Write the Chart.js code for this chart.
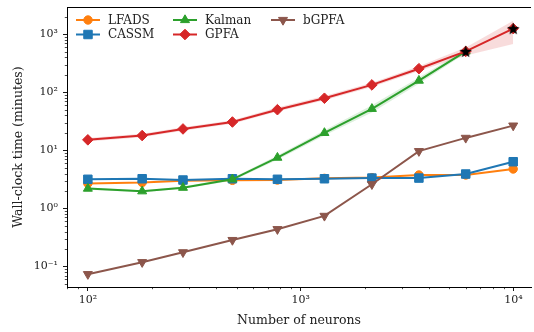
<!DOCTYPE html>
<html>
<head>
<meta charset="utf-8">
<script src="https://cdn.jsdelivr.net/npm/chart.js@4.4.1/dist/chart.umd.min.js"></script>
<style>
  html, body { margin: 0; padding: 0; background: #fff; overflow: hidden; width: 534px; height: 332px; }
  #wrap { width: 538px; height: 332px; position: relative; }
</style>
</head>
<body>
<div id="wrap"><canvas id="timing"></canvas></div>
<script>
// ---- data ----
const neurons = [100, 180, 280, 478, 778, 1294, 2163, 3597, 5970, 9980];

const lfads  = [2.7, 2.8, 3.0, 3.05, 3.09, 3.3, 3.4, 3.77, 3.77, 4.78];
const cassm  = [3.18, 3.25, 3.09, 3.25, 3.18, 3.25, 3.34, 3.34, 3.92, 6.38];
const kalman = [2.2, 1.98, 2.28, 3.18, 7.5, 20, 52, 159, 506];
const gpfa   = [15.2, 18, 23.4, 30.8, 50.2, 79, 134, 255, 506, 1250];
const bgpfa  = [0.074, 0.119, 0.176, 0.286, 0.44, 0.745, 2.61, 9.7, 16.4, 26.7];

const gpfaLo = [14.2, 16.8, 21.8, 28.7, 46.5, 73, 123, 232, 430, 680];
const gpfaHi = [16.3, 19.3, 25.1, 33, 54.5, 86, 146, 280, 590, 1700];
const kalLo  = [2.1, 1.9, 2.18, 3.0, 6.9, 18, 45, 140, 470];
const kalHi  = [2.3, 2.07, 2.4, 3.35, 8.2, 22.3, 60, 180, 545];

// runs marked with a star
const starX = [5970, 9980];
const starY = [506, 1250];

const xTicks = [100, 1000, 10000];
const xTickLabels = ['10²', '10³', '10⁴'];
const yTicks = [0.1, 1, 10, 100, 1000];
const yTickLabels = ['10⁻¹', '10⁰', '10¹', '10²', '10³'];

const seriesNames = ['LFADS', 'CASSM', 'Kalman', 'GPFA', 'bGPFA'];

// ---- styling ----
const SERIF = '"DejaVu Serif", "Liberation Serif", serif';
const C = {
    LFADS: '#ff7f0e', CASSM: '#1f77b4', Kalman: '#2ca02c',
    GPFA: '#d62728', bGPFA: '#8c564b'
};
const MARK = {
    LFADS:  { style: 'circle',   r: 4.2, rot: 0 },
    CASSM:  { style: 'rect',     r: 6.0, rot: 0 },
    Kalman: { style: 'triangle', r: 5.2, rot: 0 },
    GPFA:   { style: 'rectRot',  r: 5.3, rot: 0 },
    bGPFA:  { style: 'triangle', r: 5.2, rot: 180 }
};

function starCanvas(size) {
    const c = document.createElement('canvas');
    c.width = size; c.height = size;
    const g = c.getContext('2d');
    const cx = size / 2, cy = size / 2 + 0.5, R = size / 2, r = R * 0.42;
    g.beginPath();
    for (let i = 0; i < 10; i++) {
        const a = -Math.PI / 2 + i * Math.PI / 5;
        const rr = i % 2 ? r : R;
        g.lineTo(cx + rr * Math.cos(a), cy + rr * Math.sin(a));
    }
    g.closePath();
    g.fillStyle = '#000';
    g.fill();
    return c;
}

const pts = (ys) => ys.map((y, i) => ({ x: neurons[i], y }));

function series(name, ys, order) {
    const m = MARK[name];
    return {
        label: name,
        data: pts(ys),
        borderColor: C[name],
        backgroundColor: C[name],
        borderWidth: 2,
        pointStyle: m.style,
        pointRadius: m.r,
        pointRotation: m.rot,
        pointBorderWidth: 1,
        pointBorderColor: C[name],
        pointBackgroundColor: C[name],
        order: order
    };
}

function band(ys, fill, color) {
    return {
        label: '_band',
        data: pts(ys),
        borderWidth: 0,
        pointRadius: 0,
        backgroundColor: color,
        fill: fill,
        order: 20
    };
}

// minor ticks + top spine + legend
const axesExtras = {
    id: 'axesExtras',
    afterDraw(chart) {
        const { ctx, chartArea: a, scales } = chart;
        ctx.save();
        ctx.strokeStyle = '#000';
        ctx.lineWidth = 0.7;
        ctx.beginPath();
        const xMinor = [];
        for (let d = 10; d <= 10000; d *= 10)
            for (let k = 2; k <= 9; k++) xMinor.push(d * k);
        xMinor.forEach(v => {
            if (v < scales.x.min || v > scales.x.max) return;
            const px = Math.round(scales.x.getPixelForValue(v)) + 0.5;
            ctx.moveTo(px, a.bottom); ctx.lineTo(px, a.bottom + 2.2);
        });
        const yMinor = [];
        for (let d = 0.01; d <= 1000; d *= 10)
            for (let k = 2; k <= 9; k++) yMinor.push(d * k);
        yMinor.forEach(v => {
            if (v < scales.y.min || v > scales.y.max) return;
            const py = Math.round(scales.y.getPixelForValue(v)) + 0.5;
            ctx.moveTo(a.left, py); ctx.lineTo(a.left - 2.2, py);
        });
        ctx.stroke();

        ctx.lineWidth = 1;
        ctx.beginPath();
        ctx.moveTo(a.left, a.top + 0.5);
        ctx.lineTo(a.right, a.top + 0.5);
        ctx.stroke();

        // legend, three columns
        const cols = [76, 173, 271];
        const rows = [20, 34.5];
        const slots = [[0, 0], [0, 1], [1, 0], [1, 1], [2, 0]];
        ctx.font = '12px ' + SERIF;
        ctx.textBaseline = 'middle';
        ctx.textAlign = 'left';
        seriesNames.forEach((name, i) => {
            const x0 = cols[slots[i][0]], y0 = rows[slots[i][1]];
            ctx.strokeStyle = C[name];
            ctx.lineWidth = 2;
            ctx.beginPath();
            ctx.moveTo(x0, y0); ctx.lineTo(x0 + 24, y0);
            ctx.stroke();
            ctx.fillStyle = C[name];
            ctx.lineWidth = 1;
            const m = MARK[name];
            Chart.helpers.drawPoint(ctx, {
                pointStyle: m.style, radius: m.r, rotation: m.rot, borderWidth: 1
            }, x0 + 12, y0);
            ctx.fillStyle = '#222';
            ctx.fillText(name, x0 + 32, y0 + 0.5);
        });
        ctx.restore();
    }
};

new Chart(document.getElementById('timing'), {
    type: 'line',
    data: {
        datasets: [
            band(gpfaHi, '+1', 'rgba(214,39,40,0.16)'),
            band(gpfaLo, false, 'rgba(0,0,0,0)'),
            band(kalHi, '+1', 'rgba(44,160,44,0.16)'),
            band(kalLo, false, 'rgba(0,0,0,0)'),
            series('LFADS', lfads, 6),
            series('CASSM', cassm, 5),
            series('Kalman', kalman, 4),
            series('GPFA', gpfa, 3),
            series('bGPFA', bgpfa, 2),
            {
                label: '_stars',
                data: starX.map((x, i) => ({ x, y: starY[i] })),
                showLine: false,
                pointStyle: starCanvas(13),
                pointRadius: 6,
                order: 1
            }
        ]
    },
    options: {
        responsive: true,
        maintainAspectRatio: false,
        animation: false,
        layout: { padding: { top: 5, right: 0, left: 0, bottom: 0 } },
        plugins: {
            legend: { display: false },
            tooltip: { enabled: false }
        },
        scales: {
            x: {
                type: 'logarithmic',
                min: 79.8,
                max: 12100,
                afterBuildTicks: s => { s.ticks = xTicks.map(v => ({ value: v, major: true })); },
                afterFit: s => { s.height = 45; s.paddingLeft = 0; s.paddingRight = 0; },
                ticks: {
                    autoSkip: false,
                    maxRotation: 0,
                    padding: 3,
                    color: '#222',
                    font: { family: SERIF, size: 11 },
                    callback: v => xTickLabels[xTicks.indexOf(v)]
                },
                grid: { drawOnChartArea: false, drawTicks: true, tickLength: 4, tickColor: '#000', tickWidth: 0.9 },
                border: { display: true, color: '#000', width: 1 },
                title: {
                    display: true, text: 'Number of neurons', color: '#222',
                    font: { family: SERIF, size: 12.5 }, padding: { top: 0, bottom: 3.5 }
                }
            },
            y: {
                type: 'logarithmic',
                min: 0.0445,
                max: 2940,
                afterBuildTicks: s => { s.ticks = yTicks.map(v => ({ value: v, major: true })); },
                afterFit: s => { s.width = 67; s.paddingTop = 0; s.paddingBottom = 0; },
                ticks: {
                    autoSkip: false,
                    padding: 5,
                    color: '#222',
                    font: { family: SERIF, size: 11 },
                    callback: v => yTickLabels[yTicks.indexOf(v)]
                },
                grid: { drawOnChartArea: false, drawTicks: true, tickLength: 4, tickColor: '#000', tickWidth: 0.9 },
                border: { display: true, color: '#000', width: 1 },
                title: {
                    display: true, text: 'Wall-clock time (minutes)', color: '#222',
                    font: { family: SERIF, size: 12.5 }, padding: { top: 11, bottom: 0 }
                }
            }
        }
    },
    plugins: [axesExtras]
});
</script>
</body>
</html>
